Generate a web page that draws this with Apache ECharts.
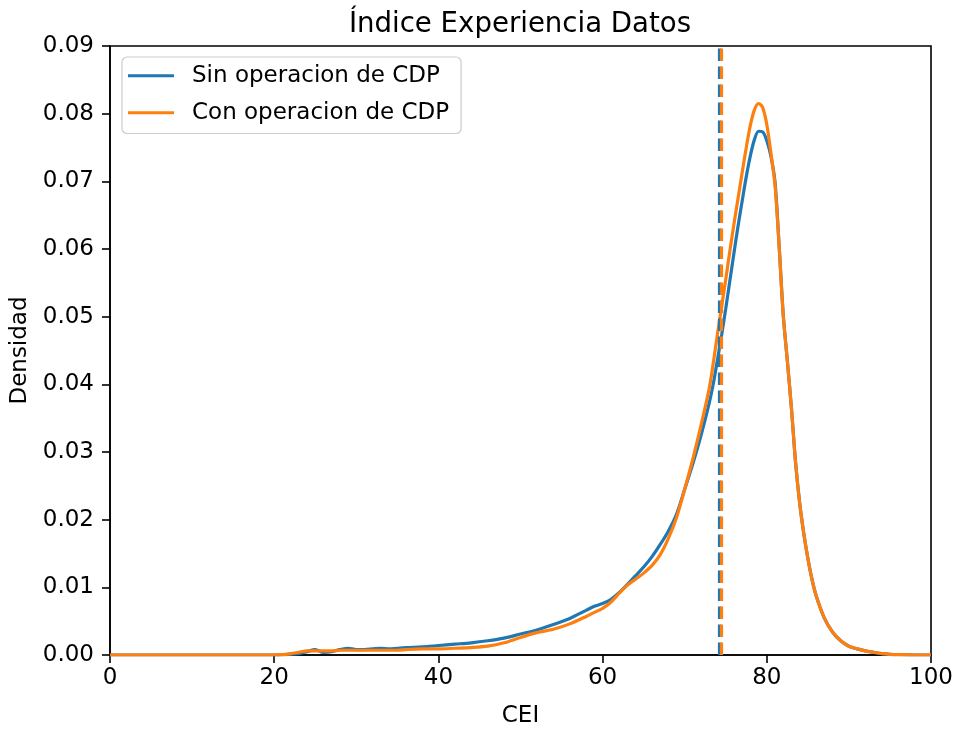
<!DOCTYPE html>
<html>
<head>
<meta charset="utf-8">
<title>Índice Experiencia Datos</title>
<script src="https://cdn.jsdelivr.net/npm/echarts@6/dist/echarts.min.js"></script>
<style>
  html, body { margin: 0; padding: 0; background: #fff; }
  #chart { width: 954px; height: 729px; }
</style>
</head>
<body>
<div id="chart"></div>
<script>
// CEI grid on which both density curves are evaluated
const cei = [0, 5, 10, 15, 20, 21, 22, 23, 24, 25, 26, 27, 28, 29, 30, 31, 32, 33, 34, 35, 36, 38, 40, 42, 44, 46, 48, 50, 52, 54, 56, 58, 59, 60, 61, 62, 63, 64, 65, 66, 67, 68, 69, 70, 71, 72, 73, 73.5, 74, 74.5, 75, 75.5, 76, 76.5, 77, 77.5, 78, 78.5, 79, 79.5, 80, 80.5, 81, 81.5, 82, 82.5, 83, 83.5, 84, 84.5, 85, 85.5, 86, 87, 88, 89, 90, 91, 92, 93, 94, 95, 96, 98, 100];

// Density without CDP operation
const sinCDP = [0, 0, 0, 0, 0, 0.00005, 0.0001, 0.0002, 0.0005, 0.0008, 0.0004, 0.0005, 0.0008, 0.0010, 0.0008, 0.0008, 0.0009, 0.0010, 0.0009, 0.0010, 0.0011, 0.0012, 0.0014, 0.0016, 0.0018, 0.0021, 0.0025, 0.0031, 0.0037, 0.0045, 0.0054, 0.0066, 0.0072, 0.0076, 0.0082, 0.0092, 0.0104, 0.0117, 0.0130, 0.0145, 0.0163, 0.0183, 0.0208, 0.0245, 0.0283, 0.0325, 0.0373, 0.0402, 0.0437, 0.0473, 0.0512, 0.0553, 0.0594, 0.0634, 0.0671, 0.0707, 0.0738, 0.0762, 0.0774, 0.0773, 0.0760, 0.0737, 0.0699, 0.0605, 0.0503, 0.0435, 0.0365, 0.0285, 0.0225, 0.0180, 0.0143, 0.0112, 0.0088, 0.0055, 0.0034, 0.0021, 0.0013, 0.0009, 0.0006, 0.0004, 0.0002, 0.0001, 0.00005, 0, 0];

// Density with CDP operation
const conCDP = [0, 0, 0, 0, 0, 0.00005, 0.0002, 0.0004, 0.0006, 0.0006, 0.0006, 0.0006, 0.0007, 0.0007, 0.0007, 0.0007, 0.0007, 0.0007, 0.0007, 0.0007, 0.0008, 0.0009, 0.0009, 0.0010, 0.0011, 0.0013, 0.0018, 0.0026, 0.0033, 0.0038, 0.0046, 0.0057, 0.0063, 0.0069, 0.0078, 0.0091, 0.0103, 0.0112, 0.0121, 0.0132, 0.0148, 0.0172, 0.0203, 0.0245, 0.0290, 0.0340, 0.0395, 0.0433, 0.0475, 0.0515, 0.0555, 0.0597, 0.0637, 0.0675, 0.0713, 0.0750, 0.0783, 0.0806, 0.0815, 0.0809, 0.0784, 0.0742, 0.0694, 0.0605, 0.0503, 0.0435, 0.0365, 0.0285, 0.0225, 0.0180, 0.0143, 0.0112, 0.0088, 0.0055, 0.0034, 0.0021, 0.0013, 0.0009, 0.0006, 0.0004, 0.0002, 0.0001, 0.00005, 0, 0];

// Mean CEI of each group (dashed verticals)
const meanSin = 74.2;
const meanCon = 74.5;

const seriesNames = ['Sin operacion de CDP', 'Con operacion de CDP'];
const colors = ['#1f77b4', '#ff7f0e'];
const xTicks = [0, 20, 40, 60, 80, 100];

const FONT = 'DejaVu Sans';
const FS = 23;

function pairs(xs, ys) {
  return xs.map((x, i) => [x, ys[i]]);
}

function curve(name, values, color, mean, z) {
  return {
    name: name,
    type: 'line',
    data: pairs(cei, values),
    smooth: 0.3,
    showSymbol: false,
    symbol: 'none',
    z: z,
    lineStyle: { color: color, width: 3.2 },
    itemStyle: { color: color },
    markLine: {
      silent: true,
      symbol: 'none',
      label: { show: false },
      lineStyle: { color: color, width: 3.2, type: [12.5, 5.5], opacity: 1 },
      emphasis: { disabled: true },
      data: [{ xAxis: mean }]
    }
  };
}

const chart = echarts.init(document.getElementById('chart'), null, { renderer: 'canvas' });

chart.setOption({
  animation: false,
  backgroundColor: '#fff',
  title: {
    text: 'Índice Experiencia Datos',
    left: 515,
    textAlign: 'center',
    top: 6,
    textStyle: { fontFamily: FONT, fontSize: 27.6, fontWeight: 'normal', color: '#000' }
  },
  legend: {
    left: 122,
    top: 57,
    orient: 'vertical',
    itemWidth: 46,
    itemHeight: 3,
    itemGap: 11.5,
    icon: 'rect',
    padding: [6, 12, 8, 6],
    backgroundColor: 'rgba(255,255,255,0.8)',
    borderColor: '#cccccc',
    borderWidth: 1.2,
    borderRadius: 5,
    data: seriesNames,
    textStyle: { fontFamily: FONT, fontSize: FS, lineHeight: 25.5, color: '#000', padding: [0, 0, 0, 13] }
  },
  grid: {
    left: 110,
    right: 23,
    top: 46,
    bottom: 74,
    containLabel: false,
    outerBoundsMode: 'none',
    show: true,
    borderColor: '#000',
    borderWidth: 1.6,
    backgroundColor: 'transparent'
  },
  xAxis: {
    type: 'value',
    min: 0,
    max: 100,
    interval: 20,
    name: 'CEI',
    nameLocation: 'middle',
    nameGap: 50,
    nameTextStyle: { fontFamily: FONT, fontSize: FS, color: '#000' },
    axisLine: { show: true, onZero: false, lineStyle: { color: '#000', width: 1.6 } },
    axisTick: { show: true, inside: false, length: 8, lineStyle: { color: '#000', width: 1.6 } },
    axisLabel: {
      fontFamily: FONT, fontSize: FS, color: '#000', margin: 12,
      formatter: v => (xTicks.indexOf(v) >= 0 ? String(v) : '')
    },
    splitLine: { show: false }
  },
  yAxis: {
    type: 'value',
    min: 0,
    max: 0.09,
    interval: 0.01,
    name: 'Densidad',
    nameLocation: 'middle',
    nameGap: 72,
    nameRotate: 90,
    nameTextStyle: { fontFamily: FONT, fontSize: FS, color: '#000' },
    axisLine: { show: true, lineStyle: { color: '#000', width: 1.6 } },
    axisTick: { show: true, inside: false, length: 8, lineStyle: { color: '#000', width: 1.6 } },
    axisLabel: {
      fontFamily: FONT, fontSize: FS, color: '#000', margin: 16,
      formatter: v => v.toFixed(2)
    },
    splitLine: { show: false }
  },
  series: [
    curve(seriesNames[0], sinCDP, colors[0], meanSin, 2),
    curve(seriesNames[1], conCDP, colors[1], meanCon, 3)
  ]
});
</script>
</body>
</html>
